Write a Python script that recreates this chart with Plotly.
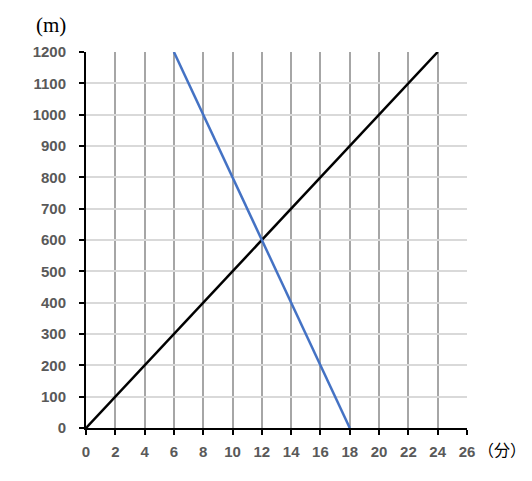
import plotly.graph_objects as go

black_x = [0, 24]
black_y = [0, 1200]
blue_x = [6, 18]
blue_y = [1200, 0]
x_ticks = list(range(0, 27, 2))
y_ticks = list(range(0, 1201, 100))

fig = go.Figure()
fig.add_trace(go.Scatter(x=black_x, y=black_y, mode="lines",
                         line=dict(color="black", width=2.5), showlegend=False))
fig.add_trace(go.Scatter(x=blue_x, y=blue_y, mode="lines",
                         line=dict(color="#4472C4", width=2.5), showlegend=False))

tickfont = dict(family="Liberation Sans, Arial, sans-serif", size=15, color="#595959")
fig.update_layout(
    width=524, height=473,
    margin=dict(l=78, r=65, t=44, b=53),
    plot_bgcolor="white", paper_bgcolor="white",
    xaxis=dict(range=[0, 26], tickvals=x_ticks, ticktext=[f"<b>{v}</b>" for v in x_ticks],
               showgrid=True, gridcolor="#a6a6a6", gridwidth=2,
               showline=True, linecolor="black", linewidth=2,
               ticks="outside", ticklen=5, tickcolor="black", tickwidth=2,
               tickfont=tickfont, zeroline=False, fixedrange=True,
               ticklabelstandoff=4),
    yaxis=dict(range=[0, 1200], tickvals=y_ticks, ticktext=[f"<b>{v}</b>" for v in y_ticks],
               showgrid=True, gridcolor="#d9d9d9", gridwidth=1.5,
               showline=True, linecolor="black", linewidth=2,
               ticks="outside", ticklen=5, tickcolor="black", tickwidth=2,
               tickfont=tickfont, zeroline=False, fixedrange=True,
               ticklabelstandoff=10),
)
fig.add_annotation(text="(m)", xref="paper", yref="paper", x=0, y=1.0, xshift=-35, yshift=27,
                   showarrow=False, xanchor="center", yanchor="middle",
                   font=dict(family="Liberation Serif, serif", size=21, color="black"))
fig.add_annotation(text="（分）", xref="paper", yref="paper", x=1.0, y=0, xshift=35, yshift=-21,
                   showarrow=False, xanchor="center", yanchor="middle",
                   font=dict(family="Noto Sans CJK JP", size=16, color="black"))
fig.write_html("out.html")
